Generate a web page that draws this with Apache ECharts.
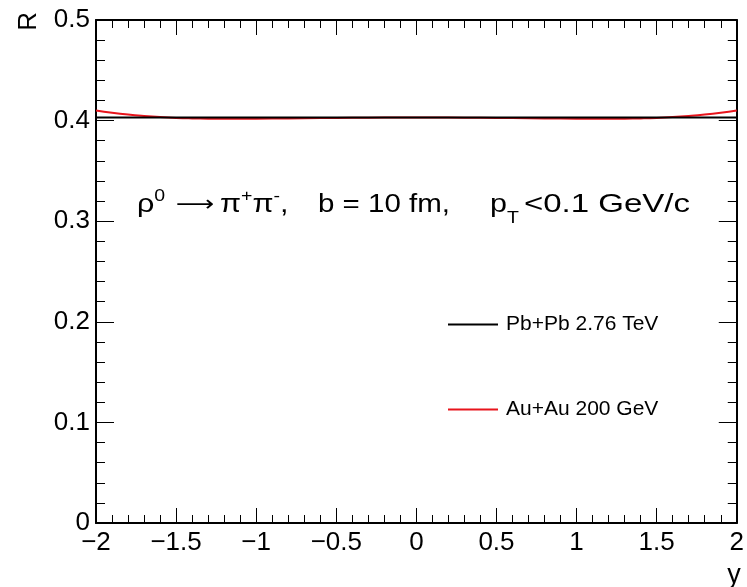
<!DOCTYPE html>
<html><head><meta charset="utf-8">
<script src="https://cdn.jsdelivr.net/npm/echarts@6/dist/echarts.min.js"></script>
<style>html,body{margin:0;padding:0;background:#fff}#c{width:747px;height:587px}</style>
</head><body><div id="c"></div>
<script>
const xValues = [-2.0,-1.9,-1.8,-1.7,-1.6,-1.5,-1.4,-1.3,-1.2,-1.1,-1.0,-0.8,-0.6,-0.4,-0.2,0.0,0.2,0.4,0.6,0.8,1.0,1.1,1.2,1.3,1.4,1.5,1.6,1.7,1.8,1.9,2.0];
const pbpb = [0.4030,0.4030,0.4030,0.4030,0.4030,0.4030,0.4030,0.4030,0.4030,0.4030,0.4030,0.4030,0.4030,0.4030,0.4030,0.4030,0.4030,0.4030,0.4030,0.4030,0.4030,0.4030,0.4030,0.4030,0.4030,0.4030,0.4030,0.4030,0.4030,0.4030,0.4030];
const auau = [0.4100,0.4078,0.4060,0.4046,0.4035,0.4027,0.4022,0.4019,0.4018,0.4018,0.4019,0.4022,0.4025,0.4028,0.4030,0.4031,0.4030,0.4028,0.4025,0.4022,0.4019,0.4018,0.4018,0.4019,0.4022,0.4027,0.4035,0.4046,0.4060,0.4078,0.4100];
const seriesNames = ['Pb+Pb 2.76 TeV','Au+Au 200 GeV'];
const seriesColors = ['#000000','#e8141c'];

const font = 'Liberation Sans, Arial, sans-serif';
const fmtX = v => { const s = (Math.round(v*10)/10).toString(); return s.replace('-', '\u2212'); };
const fmtY = v => v === 0 ? '0' : v.toFixed(1);

const chart = echarts.init(document.getElementById('c'), null, {renderer:'canvas'});
const axisCommon = {
  axisLine:{show:true, onZero:false, lineStyle:{color:'#000', width:2}},
  splitLine:{show:false}
};
const tickStyle = {color:'#000', width:1};
const rich = {
  m:{fontFamily:font, fontSize:25, color:'#000', lineHeight:44, verticalAlign:'middle'},
  a:{fontFamily:'DejaVu Sans', fontSize:22, color:'#000', lineHeight:44, verticalAlign:'middle'},
  sup:{fontFamily:font, fontSize:16, color:'#000', lineHeight:44, verticalAlign:'top', padding:[6,0,0,0]},
  sub:{fontFamily:font, fontSize:16, color:'#000', lineHeight:44, verticalAlign:'bottom'}
};
const annot = (x, text, sx) => ({type:'text', x:x, y:183, scaleX:sx, style:{text:text, rich:rich, verticalAlign:'top'}});

chart.setOption({
  animation:false,
  backgroundColor:'#fff',
  grid:{left:96, right:10, top:20, bottom:64},
  legend:{
    orient:'vertical', left:443, top:309, itemGap:64,
    itemWidth:50, itemHeight:2, icon:'rect',
    textStyle:{fontFamily:font, fontSize:21, color:'#000', padding:[0,0,0,3]},
    data:seriesNames
  },
  xAxis:[
    Object.assign({type:'value', min:-2, max:2, interval:0.5, position:'bottom',
      axisTick:{inside:true, length:15, lineStyle:tickStyle},
      minorTick:{show:true, splitNumber:5, length:8, lineStyle:tickStyle},
      axisLabel:{formatter:fmtX, fontFamily:font, fontSize:26, color:'#000', margin:7}
    }, axisCommon),
    Object.assign({type:'value', min:-2, max:2, interval:0.5, position:'top',
      axisTick:{inside:true, length:15, lineStyle:tickStyle},
      minorTick:{show:true, splitNumber:5, length:8, lineStyle:tickStyle},
      axisLabel:{show:false}
    }, axisCommon)
  ],
  yAxis:[
    Object.assign({type:'value', min:0, max:0.5, interval:0.1, position:'left',
      axisTick:{inside:true, length:18, lineStyle:tickStyle},
      minorTick:{show:true, splitNumber:5, length:9, lineStyle:tickStyle},
      axisLabel:{formatter:fmtY, fontFamily:font, fontSize:26, color:'#000', margin:6}
    }, axisCommon),
    Object.assign({type:'value', min:0, max:0.5, interval:0.1, position:'right',
      axisTick:{inside:true, length:18, lineStyle:tickStyle},
      minorTick:{show:true, splitNumber:5, length:9, lineStyle:tickStyle},
      axisLabel:{show:false}
    }, axisCommon)
  ],
  series:[
    {name:seriesNames[1], type:'line', smooth:true, showSymbol:false, symbol:'none',
     color:seriesColors[1], lineStyle:{width:2, color:seriesColors[1]},
     data:xValues.map((x,i)=>[x, auau[i]])},
    {name:seriesNames[0], type:'line', smooth:true, showSymbol:false, symbol:'none',
     color:seriesColors[0], lineStyle:{width:2, color:seriesColors[0]},
     data:xValues.map((x,i)=>[x, pbpb[i]])}
  ],
  graphic:[
    {type:'text', x:29, y:12, rotation:Math.PI/2,
     style:{text:'R', font:'26px '+font, fill:'#000', align:'right', verticalAlign:'middle'}},
    {type:'text', x:734, y:589,
     style:{text:'y', font:'27px '+font, fill:'#000', align:'center', verticalAlign:'bottom'}},
    annot(137, '{m|ρ}{sup|0}', 1.22),
    annot(176, '{a|⟶}', 1.22),
    annot(220, '{m|π}{sup|+}{m|π}{sup|-}{m|,}', 1.22),
    annot(318, '{m|b = 10 fm,}', 1.18),
    annot(490, '{m|p}{sub|T}', 1.22),
    annot(524, '{m|<0.1 GeV/c}', 1.32)
  ]
});
</script></body></html>
